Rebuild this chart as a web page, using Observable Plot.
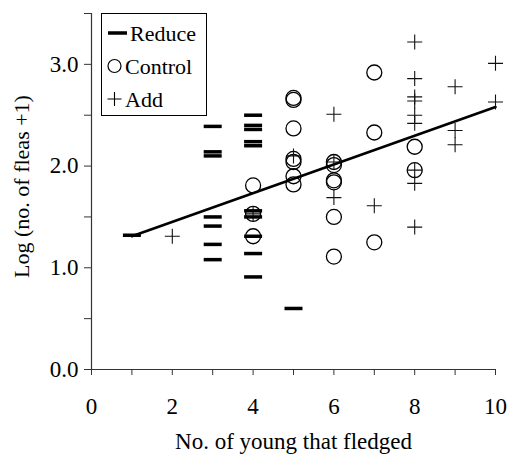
<!DOCTYPE html>
<html>
<head>
<meta charset="utf-8">
<script src="https://cdn.jsdelivr.net/npm/d3@7"></script>
<script src="https://cdn.jsdelivr.net/npm/@observablehq/plot@0.6"></script>
<style>
  html, body { margin: 0; padding: 0; background: #fff; }
  #wrap { position: relative; width: 507px; height: 460px; font-family: "Liberation Serif", "Times New Roman", serif; }
  #legend { position: absolute; left: 101px; top: 13px; width: 104px; height: 101px; border: 1px solid #000; background: #fff; }
</style>
</head>
<body>
<div id="wrap"></div>
<script>
// ---- data ----
const reduceX = [1, 3, 3, 3, 3, 3, 3, 3, 4, 4, 4, 4, 4, 4, 4, 4, 4, 4, 5];
const reduceY = [1.32, 2.39, 2.14, 2.10, 1.50, 1.41, 1.23, 1.08, 2.50, 2.40, 2.36, 2.24, 2.20, 1.56, 1.50, 1.31, 1.14, 0.91, 0.60];

const controlX = [4, 4, 4, 5, 5, 5, 5, 5, 5, 5, 6, 6, 6, 6, 6, 6, 7, 7, 7, 8, 8];
const controlY = [1.81, 1.53, 1.31, 2.67, 2.65, 2.37, 2.07, 2.04, 1.90, 1.82, 2.04, 2.01, 1.86, 1.84, 1.50, 1.11, 2.92, 2.33, 1.25, 2.19, 1.96];

const addX = [2, 4, 5, 6, 6, 6, 7, 8, 8, 8, 8, 8, 8, 8, 8, 8, 9, 9, 9, 10, 10];
const addY = [1.31, 1.53, 2.10, 2.51, 2.04, 1.69, 1.61, 3.22, 2.86, 2.68, 2.64, 2.50, 2.42, 1.96, 1.83, 1.40, 2.78, 2.35, 2.21, 3.01, 2.63];

const fitX = [1, 10];
const fitY = [1.31, 2.58];

const xTicks = [0, 1, 2, 3, 4, 5, 6, 7, 8, 9, 10];
const yTicks = [0, 0.5, 1, 1.5, 2, 2.5, 3, 3.5];
const seriesNames = ["Reduce", "Control", "Add"];
const xLabel = "No. of young that fledged";
const yLabel = "Log (no. of fleas +1)";

// ---- build tables ----
const zip = (xs, ys) => xs.map((x, i) => ({x, y: ys[i]}));
const reduce = zip(reduceX, reduceY);
const control = zip(controlX, controlY);
const add = zip(addX, addY);
const fit = zip(fitX, fitY);

const dashSymbol = {draw(ctx) { ctx.moveTo(-9, -1.75); ctx.lineTo(9, -1.75); ctx.lineTo(9, 1.75); ctx.lineTo(-9, 1.75); ctx.closePath(); }};
const plusSymbol = {draw(ctx) { ctx.moveTo(-7.5, 0); ctx.lineTo(7.5, 0); ctx.moveTo(0, -7.5); ctx.lineTo(0, 7.5); }};

const FONT = "Liberation Serif";

const chart = Plot.plot({
  width: 507,
  height: 460,
  marginLeft: 91,
  marginRight: 12,
  marginTop: 13,
  marginBottom: 91,
  style: {fontFamily: FONT, fontSize: "23px", color: "#000", background: "#fff"},
  x: {domain: [0, 10]},
  y: {domain: [0, 3.5]},
  marks: [
    Plot.axisX({ticks: xTicks, tickFormat: d => d % 2 === 0 ? String(d) : "", tickSize: 6, tickPadding: 22, stroke: "#333", fontSize: 23, label: null}),
    Plot.axisY({ticks: yTicks, tickFormat: d => Number.isInteger(d) ? d.toFixed(1) : "", tickSize: 7, tickPadding: 6, stroke: "#333", fontSize: 23, label: null}),
    Plot.ruleX([0], {stroke: "#333", strokeWidth: 1.2}),
    Plot.ruleY([0], {stroke: "#333", strokeWidth: 1.2}),
    Plot.line(fit, {x: "x", y: "y", stroke: "#000", strokeWidth: 2.6}),
    Plot.dot(control, {x: "x", y: "y", r: 7.5, symbol: "circle", stroke: "#000", strokeWidth: 1.3, fill: "none"}),
    Plot.dot(add, {x: "x", y: "y", r: 7, symbol: plusSymbol, stroke: "#111", strokeWidth: 1.1, fill: "none"}),
    Plot.dot(reduce, {x: "x", y: "y", r: 7, symbol: dashSymbol, fill: "#000", stroke: "none"}),
    Plot.text([xLabel], {frameAnchor: "bottom", textAnchor: "middle", dy: 79, fontSize: 23, fill: "#000"}),
    Plot.text([yLabel], {frameAnchor: "left", textAnchor: "middle", rotate: -90, dx: -70, dy: -5, fontSize: 22, fill: "#000"})
  ]
});

const wrap = document.getElementById("wrap");
wrap.appendChild(chart);

// ---- legend (overlay inside plot) ----
const legend = document.createElement("div");
legend.id = "legend";
const ns = "http://www.w3.org/2000/svg";
const lsvg = document.createElementNS(ns, "svg");
lsvg.setAttribute("width", 104);
lsvg.setAttribute("height", 101);
lsvg.style.fontFamily = FONT;
const rowY = [19, 52, 85];
seriesNames.forEach((name, i) => {
  const cy = rowY[i];
  if (i === 0) {
    const r = document.createElementNS(ns, "rect");
    r.setAttribute("x", 6); r.setAttribute("y", cy - 1.75); r.setAttribute("width", 19); r.setAttribute("height", 3.5);
    r.setAttribute("fill", "#000");
    lsvg.appendChild(r);
  } else if (i === 1) {
    const c = document.createElementNS(ns, "circle");
    c.setAttribute("cx", 12.5); c.setAttribute("cy", cy); c.setAttribute("r", 6.5);
    c.setAttribute("fill", "none"); c.setAttribute("stroke", "#000"); c.setAttribute("stroke-width", 1.2);
    lsvg.appendChild(c);
  } else {
    const p = document.createElementNS(ns, "path");
    p.setAttribute("d", `M5.5,${cy}H19.5M12.5,${cy - 7}V${cy + 7}`);
    p.setAttribute("stroke", "#000"); p.setAttribute("stroke-width", 1.1); p.setAttribute("fill", "none");
    lsvg.appendChild(p);
  }
  const t = document.createElementNS(ns, "text");
  t.setAttribute("x", i === 0 ? 28 : 23);
  t.setAttribute("y", cy);
  t.setAttribute("dy", "0.35em");
  t.setAttribute("font-size", 22);
  t.textContent = name;
  lsvg.appendChild(t);
});
legend.appendChild(lsvg);
wrap.appendChild(legend);
</script>
</body>
</html>
